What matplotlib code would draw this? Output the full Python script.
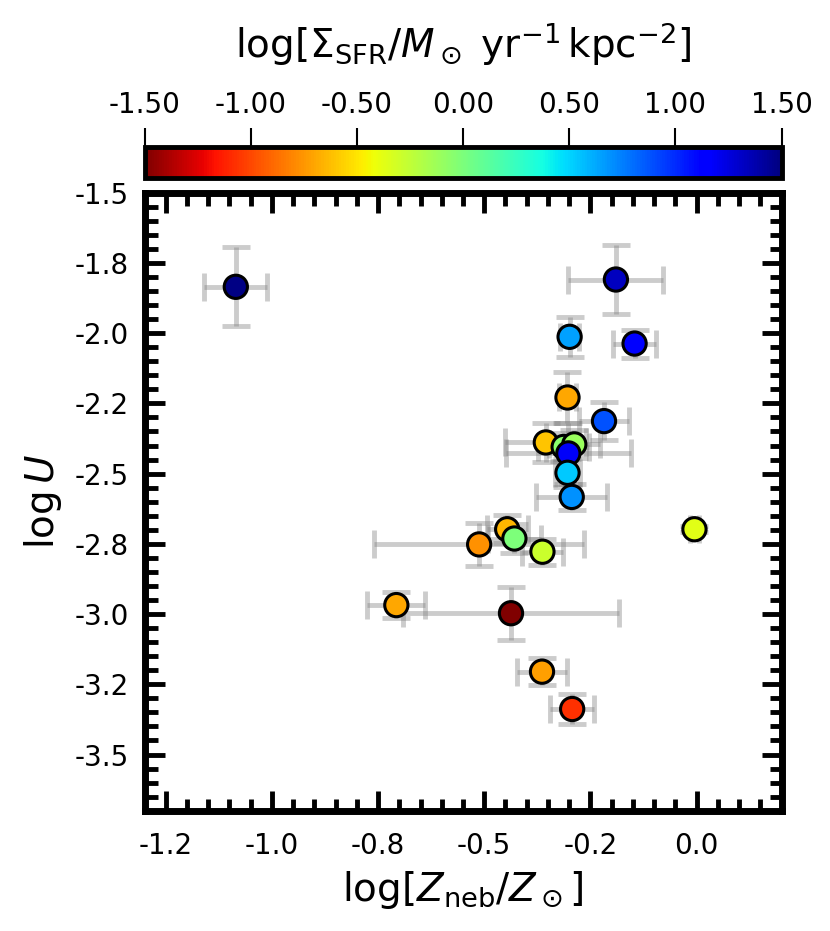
import numpy as np
import matplotlib
matplotlib.use("Agg")
import matplotlib.pyplot as plt
from matplotlib.ticker import MultipleLocator, FormatStrFormatter

# Data: metallicity, ionization parameter, their errors, and SFR surface density
logZ = [-1.085, -0.190, -0.299, -0.146, -0.304, -0.218, -0.355, -0.313, -0.288,
        -0.302, -0.304, -0.294, -0.005, -0.446, -0.429, -0.512, -0.363, -0.707,
        -0.437, -0.364, -0.293]
logZ_err = [0.074, 0.112, 0.023, 0.050, 0.020, 0.059, 0.095, 0.060, 0.060,
            0.147, 0.030, 0.084, 0.010, 0.048, 0.062, 0.248, 0.049, 0.068,
            0.255, 0.059, 0.052]
logU = [-1.835, -1.809, -2.013, -2.037, -2.229, -2.313, -2.389, -2.405, -2.396,
        -2.428, -2.497, -2.583, -2.698, -2.698, -2.731, -2.752, -2.778, -2.968,
        -2.997, -3.205, -3.338]
logU_err = [0.140, 0.123, 0.071, 0.050, 0.091, 0.068, 0.070, 0.050, 0.050,
            0.109, 0.050, 0.047, 0.010, 0.050, 0.050, 0.076, 0.046, 0.046,
            0.095, 0.047, 0.055]
logSigmaSFR = [1.48, 1.33, 0.65, 1.15, -0.70, 0.88, -0.60, -0.05, -0.11,
               1.18, 0.53, 0.70, -0.37, -0.65, -0.01, -0.77, -0.29, -0.70,
               -1.50, -0.72, -1.07]

cbar_ticks = [-1.5, -1.0, -0.5, 0.0, 0.5, 1.0, 1.5]

plt.rcParams['font.family'] = ['DejaVu Sans']
plt.rcParams['mathtext.fontset'] = 'dejavusans'

fig = plt.figure(figsize=(8.3, 9.31), dpi=100)
ax = fig.add_axes([0.1741, 0.1292, 0.7675, 0.6638])

ax.errorbar(logZ, logU, xerr=logZ_err, yerr=logU_err, fmt='none',
            ecolor='gray', alpha=0.4, elinewidth=3.5, capsize=10, capthick=3.5,
            zorder=1)
sc = ax.scatter(logZ, logU, c=logSigmaSFR, cmap='jet_r', vmin=-1.5, vmax=1.5,
                s=280, edgecolors='black', linewidths=2.2, zorder=3)

ax.set_xlim(-1.3, 0.2)
ax.set_ylim(-3.7, -1.5)
ax.xaxis.set_major_locator(MultipleLocator(0.25))
ax.xaxis.set_minor_locator(MultipleLocator(0.05))
ax.yaxis.set_major_locator(MultipleLocator(0.25))
ax.yaxis.set_minor_locator(MultipleLocator(0.05))
ax.xaxis.set_major_formatter(FormatStrFormatter('%.1f'))
ax.yaxis.set_major_formatter(FormatStrFormatter('%.1f'))

ax.tick_params(which='both', direction='in', top=True, right=True,
               labelsize=20, width=3.5)
ax.tick_params(which='major', length=14.5)
ax.tick_params(which='minor', length=9)
ax.tick_params(axis='x', which='major', pad=15)
ax.tick_params(axis='y', which='major', pad=11)
for sp in ax.spines.values():
    sp.set_linewidth(5)

ax.set_xlabel(r'$\log[Z_{\rm neb}/Z_\odot]$', fontsize=28, labelpad=7)
ax.set_ylabel(r'$\log U$', fontsize=28, labelpad=8)

cax = fig.add_axes([0.1741, 0.8088, 0.7675, 0.0333])
cb = fig.colorbar(sc, cax=cax, orientation='horizontal', ticks=cbar_ticks)
cax.xaxis.set_ticks_position('top')
cax.xaxis.set_label_position('top')
cax.xaxis.set_major_formatter(FormatStrFormatter('%.2f'))
cax.tick_params(labelsize=20, length=14, width=1.5, pad=6)
cb.outline.set_linewidth(3.5)
cb.set_label(r'$\log[\Sigma_{\rm SFR}/M_\odot\ {\rm yr}^{-1}\,{\rm kpc}^{-2}]$',
             fontsize=28, labelpad=24)

fig.savefig('out.png', dpi=100)
